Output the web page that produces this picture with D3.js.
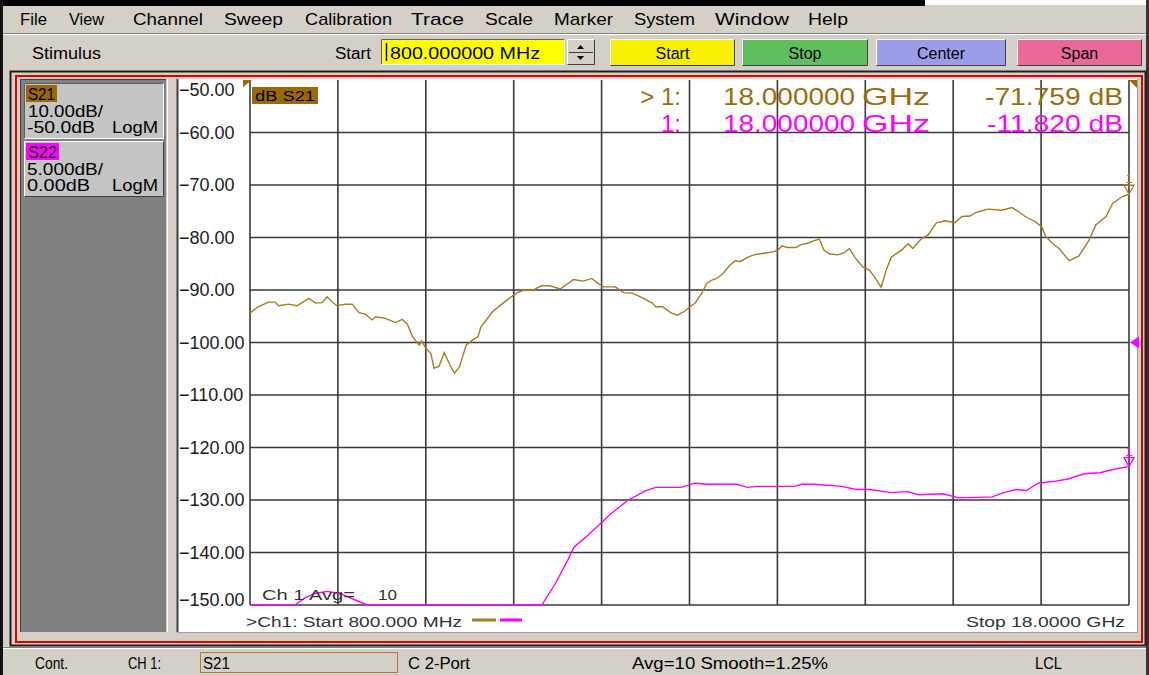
<!DOCTYPE html>
<html><head><meta charset="utf-8">
<script src="https://cdn.jsdelivr.net/npm/d3@7"></script>
<style>
body{margin:0;background:#d4d0c8;overflow:hidden}
svg{display:block}
text{font-family:"Liberation Sans",Arial,sans-serif}
</style>
</head><body>
<svg id="c" width="1149" height="675"></svg>
<script>
// ---------------- DATA ----------------
const freqS21 = [0.80,0.96,1.16,1.29,1.36,1.55,1.72,1.95,2.08,2.21,
  2.31,2.40,2.50,2.67,2.80,2.93,3.06,3.19,3.26,3.45,
  3.65,3.78,3.88,3.98,4.11,4.16,4.24,4.34,4.40,4.50,
  4.60,4.70,4.80,4.90,5.03,5.16,5.26,5.32,5.55,5.75,
  6.01,6.14,6.34,6.50,6.67,6.87,7.13,7.32,7.49,7.59,
  7.72,7.95,8.11,8.28,8.44,8.67,8.74,8.87,9.03,9.16,
  9.30,9.41,9.51,9.64,9.74,9.84,9.93,10.03,10.20,10.30,
  10.39,10.53,10.66,10.79,10.92,11.05,11.13,11.21,11.31,11.48,
  11.57,11.71,11.84,11.94,12.03,12.13,12.30,12.43,12.53,12.63,
  12.79,12.92,13.02,13.15,13.25,13.35,13.55,13.68,13.77,13.94,
  14.07,14.23,14.40,14.59,14.73,14.89,14.99,15.12,15.25,15.51,
  15.71,15.84,15.97,16.17,16.30,16.37,16.50,16.63,16.83,17.02,
  17.22,17.35,17.55,17.68,17.87,18.00];
const s21dB = [-94.4,-93.2,-92.3,-92.3,-93.0,-92.7,-93.0,-91.6,-92.5,-92.4,
  -91.3,-92.2,-93.0,-92.7,-92.7,-94.3,-94.6,-95.7,-95.1,-95.4,
  -96.2,-95.6,-96.5,-98.9,-100.5,-99.7,-101.1,-102.1,-104.9,-104.5,
  -101.9,-104.0,-105.9,-104.6,-100.5,-99.5,-98.9,-97.0,-94.1,-92.5,
  -90.6,-90.1,-90.0,-89.2,-89.2,-89.8,-88.0,-88.3,-87.8,-88.6,
  -89.4,-89.4,-90.5,-90.6,-91.3,-92.5,-93.2,-93.2,-94.3,-94.8,
  -94.1,-93.2,-92.5,-90.6,-88.7,-88.1,-87.8,-87.1,-85.2,-84.4,
  -84.6,-83.8,-83.3,-83.1,-82.9,-82.7,-82.4,-81.6,-81.9,-81.9,
  -81.4,-81.1,-80.6,-80.3,-82.4,-83.1,-83.3,-82.9,-82.1,-83.7,
  -85.6,-86.2,-87.5,-89.5,-86.2,-83.7,-82.4,-81.2,-82.1,-80.2,
  -79.5,-77.2,-76.8,-77.2,-76.0,-75.9,-75.3,-74.9,-74.6,-74.8,
  -74.3,-75.1,-76.0,-77.0,-78.1,-79.8,-81.1,-82.1,-84.4,-83.5,
  -80.5,-77.6,-76.0,-73.5,-72.2,-71.76];
const freqS22 = [0.80,1.68,1.88,2.07,2.31,2.56,2.85,3.09,
  6.51,6.77,7.02,7.14,7.38,7.69,7.84,8.20,8.55,8.74,
  9.23,9.51,9.74,10.33,10.53,10.72,11.45,11.60,11.84,12.38,
  12.66,12.93,13.34,13.66,13.89,14.36,14.67,15.32,15.55,15.79,
  15.99,16.22,16.57,16.81,17.12,17.43,17.77,18.00];
const s22dB = [-25,-25,-24.3,-23.9,-23.7,-23.9,-24.5,-25,
  -25,-23.0,-20.7,-19.5,-18.5,-17.1,-16.4,-15.0,-14.1,-13.8,
  -13.8,-13.4,-13.5,-13.5,-13.8,-13.7,-13.7,-13.5,-13.5,-13.7,
  -14.0,-14.0,-14.3,-14.2,-14.5,-14.4,-14.8,-14.7,-14.3,-14.0,
  -14.1,-13.4,-13.2,-13.0,-12.5,-12.4,-12.0,-11.82];
const yTicks = [-50,-60,-70,-80,-90,-100,-110,-120,-130,-140,-150];
const freqStart = 0.8, freqStop = 18.0, xDivisions = 10;
const s21Scale = {ref:-50, perDiv:10};   // reference at top
const s22Scale = {ref:0, perDiv:5};      // reference at centre
const menuItems = ["File","View","Channel","Sweep","Calibration","Trace","Scale","Marker","System","Window","Help"];
const buttons = ["Start","Stop","Center","Span"];
const markerFreqText = "18.000000";
const markerS21 = "-71.759 dB", markerS22 = "-11.820 dB";
const statusItems = ["Cont.","CH 1:","S21","C  2-Port","Avg=10 Smooth=1.25%","LCL"];

// ---------------- LAYOUT ----------------
const svg = d3.select("#c");
function txt(g, x, y, s, o = {}) {
  const t = g.append("text").attr("x", x).attr("y", y).text(s)
    .attr("font-size", o.size || 15).attr("fill", o.fill || "#000");
  if (o.anchor) t.attr("text-anchor", o.anchor);
  if (o.len) t.attr("textLength", o.len).attr("lengthAdjust", "spacingAndGlyphs");
  if (o.weight) t.attr("font-weight", o.weight);
  return t;
}
function bevel(g, x, y, w, h, fill, sunken) {
  g.append("rect").attr("x", x).attr("y", y).attr("width", w).attr("height", h).attr("fill", fill);
  const lt = sunken ? "#606060" : "#ffffff", dk = sunken ? "#ffffff" : "#404040";
  g.append("path").attr("d", `M${x+0.5},${y+h-0.5} V${y+0.5} H${x+w-0.5}`).attr("stroke", lt).attr("fill", "none");
  g.append("path").attr("d", `M${x+0.5},${y+h-0.5} H${x+w-0.5} V${y+0.5}`).attr("stroke", dk).attr("fill", "none");
}

// window background
svg.append("rect").attr("width", 1149).attr("height", 675).attr("fill", "#d4d0c8");
svg.append("rect").attr("x", 0).attr("y", 0).attr("width", 925).attr("height", 6).attr("fill", "#000");
svg.append("rect").attr("x", 925).attr("y", 0).attr("width", 224).attr("height", 5).attr("fill", "#fff");
svg.append("rect").attr("x", 0).attr("y", 0).attr("width", 3).attr("height", 675).attr("fill", "#111");
svg.append("rect").attr("x", 1146).attr("y", 0).attr("width", 3).attr("height", 675).attr("fill", "#333");

// menu bar
const menuX = [20,69,133,224,305,411,485,554,634,715,808];
const menuW = [27,35,70,59,87,53,48,59,61,74,40];
const menu = svg.append("g");
menuItems.forEach((m, i) => txt(menu, menuX[i], 25, m, {size: 17, len: menuW[i]}));
svg.append("line").attr("x1", 3).attr("x2", 1146).attr("y1", 33.5).attr("y2", 33.5).attr("stroke", "#808080");
svg.append("line").attr("x1", 3).attr("x2", 1146).attr("y1", 34.5).attr("y2", 34.5).attr("stroke", "#fff");

// toolbar
const tb = svg.append("g");
txt(tb, 32, 59, "Stimulus", {size: 16, len: 69});
txt(tb, 335, 59, "Start", {size: 16, len: 36});
bevel(tb, 381, 39, 184, 26, "#ffff00", true);
tb.append("line").attr("x1", 386.5).attr("x2", 386.5).attr("y1", 43).attr("y2", 61).attr("stroke", "#0000c0").attr("stroke-width", 1.5);
txt(tb, 390, 59, "800.000000 MHz", {size: 17, len: 150});
bevel(tb, 567, 39, 28, 26, "#d4d0c8", false);
tb.append("line").attr("x1", 569).attr("x2", 593).attr("y1", 52.5).attr("y2", 52.5).attr("stroke", "#404040");
tb.append("path").attr("d", "M577,49 L584,49 L580.5,45 Z").attr("fill", "#000");
tb.append("path").attr("d", "M577,56 L584,56 L580.5,60 Z").attr("fill", "#000");
const btnX = [610,742,876,1017], btnW = [125,126,130,125];
const btnFill = ["#f7f000","#5fbf5f","#9c9ce8","#e8699a"];
buttons.forEach((b, i) => {
  bevel(tb, btnX[i], 39, btnW[i], 27, btnFill[i], false);
  txt(tb, btnX[i] + btnW[i] / 2, 59, b, {size: 16, anchor: "middle"});
});

// main frame
svg.append("rect").attr("x", 10.5).attr("y", 71.5).attr("width", 1135).attr("height", 574)
  .attr("fill", "#d4d0c8").attr("stroke", "#202020").attr("stroke-width", 2);
svg.append("rect").attr("x", 16).attr("y", 76).attr("width", 1126).attr("height", 566)
  .attr("fill", "#d4d0c8").attr("stroke", "#e00000").attr("stroke-width", 2);

// left trace panel
const lp = svg.append("g");
lp.append("rect").attr("x", 20).attr("y", 79).attr("width", 146).attr("height", 553).attr("fill", "#808080");
lp.append("path").attr("d", "M20.5,632 V79.5 H166").attr("stroke", "#404040").attr("fill", "none");
bevel(lp, 24, 83, 140, 56, "#c4c4c4", true);
bevel(lp, 24, 141, 140, 56, "#c4c4c4", false);
lp.append("rect").attr("x", 26).attr("y", 85).attr("width", 31).attr("height", 17).attr("fill", "#9a6a00");
txt(lp, 28, 100, "S21", {size: 16, len: 27});
txt(lp, 28, 117, "10.00dB/", {size: 16, len: 75});
txt(lp, 27, 133, "-50.0dB", {size: 16, len: 68});
txt(lp, 158, 133, "LogM", {size: 16, anchor: "end", len: 46});
lp.append("rect").attr("x", 26).attr("y", 143).attr("width", 33).attr("height", 17).attr("fill", "#ff00ff");
txt(lp, 28, 158, "S22", {size: 16, len: 29});
txt(lp, 27, 175, "5.000dB/", {size: 16, len: 76});
txt(lp, 27, 191, "0.00dB", {size: 16, len: 63});
txt(lp, 158, 191, "LogM", {size: 16, anchor: "end", len: 46});

// plot panel
const pp = svg.append("g");
pp.append("rect").attr("x", 166).attr("y", 79).attr("width", 11).attr("height", 553).attr("fill", "#d4d0c8");
pp.append("line").attr("x1", 167.5).attr("x2", 167.5).attr("y1", 79).attr("y2", 632).attr("stroke", "#fff");
pp.append("rect").attr("x", 177).attr("y", 79).attr("width", 960).attr("height", 553).attr("fill", "#fff");
pp.append("line").attr("x1", 177.5).attr("x2", 177.5).attr("y1", 79).attr("y2", 632).attr("stroke", "#404040").attr("stroke-width", 2);
pp.append("line").attr("x1", 177).attr("x2", 1137).attr("y1", 632.5).attr("y2", 632.5).attr("stroke", "#a0a0a0");
pp.append("line").attr("x1", 1137.5).attr("x2", 1137.5).attr("y1", 79).attr("y2", 633).attr("stroke", "#a0a0a0");

// scales
const x = d3.scaleLinear().domain([freqStart, freqStop]).range([250, 1129]);
const y21 = d3.scaleLinear().domain([s21Scale.ref - 10 * s21Scale.perDiv, s21Scale.ref]).range([605, 80]);
const y22 = d3.scaleLinear().domain([s22Scale.ref - 5 * s22Scale.perDiv, s22Scale.ref + 5 * s22Scale.perDiv]).range([605, 80]);

// grid
const grid = svg.append("g").attr("stroke", "#3a3a3a").attr("stroke-width", 1.6);
const xGrid = d3.range(xDivisions + 1).map(i => freqStart + i * (freqStop - freqStart) / xDivisions);
grid.selectAll(".vx").data(xGrid).join("line")
  .attr("x1", d => x(d)).attr("x2", d => x(d)).attr("y1", y21(-50)).attr("y2", y21(-150));
grid.selectAll(".hy").data(yTicks.slice(1)).join("line")
  .attr("x1", x(freqStart)).attr("x2", x(freqStop)).attr("y1", d => y21(d)).attr("y2", d => y21(d));

// y labels
const fmt = d3.format(".2f");
svg.append("g").selectAll("text").data(yTicks).join("text")
  .attr("x", 179).attr("y", d => Math.max(90, Math.min(600, y21(d))) + 6)
  .attr("font-size", 18).attr("fill", "#1a1a1a").text(d => fmt(d));

// traces
const line21 = d3.line().x(d => x(d[0])).y(d => y21(d[1]));
const line22 = d3.line().x(d => x(d[0])).y(d => y22(Math.max(-25, d[1])));
svg.append("path").datum(d3.zip(freqS22, s22dB)).attr("d", line22)
  .attr("fill", "none").attr("stroke", "#ff00ff").attr("stroke-width", 1.4);
svg.append("path").datum(d3.zip(freqS21, s21dB)).attr("d", line21)
  .attr("fill", "none").attr("stroke", "#a87b1e").attr("stroke-width", 1.4);

// markers at stop
const mx = x(freqStop);
[[y21(s21dB[s21dB.length - 1]), "#a87b1e"], [y22(s22dB[s22dB.length - 1]), "#ff00ff"]].forEach(([my, c]) => {
  svg.append("path").attr("d", `M${mx-5},${my-9} L${mx+5},${my-9} L${mx},${my} Z`)
    .attr("fill", "none").attr("stroke", c).attr("stroke-width", 1.3);
  txt(svg, mx, my - 11, "1", {size: 13, fill: c, anchor: "middle"});
});

// reference indicators
svg.append("path").attr("d", "M243,87 L252,80 L243,80 Z").attr("fill", "#9a6a00");
svg.append("path").attr("d", `M${x(freqStop)},80 L1137,80 L1137,88 Z`).attr("fill", "#9a6a00");
svg.append("path").attr("d", `M${x(freqStop)+1},${y22(0)} L1139,${y22(0)-6} L1139,${y22(0)+6} Z`).attr("fill", "#ff00ff");

// dB S21 label
svg.append("rect").attr("x", 252).attr("y", 87).attr("width", 66).attr("height", 17).attr("fill", "#9a6a00");
txt(svg, 255, 101, "dB S21", {size: 14, len: 60});

// marker readout
const brown = "#9c6c0c", mag = "#ff00ff";
txt(svg, 681, 105, "> 1:", {size: 24, fill: brown, anchor: "end"});
txt(svg, 723, 105, markerFreqText, {size: 24, fill: brown, len: 132});
txt(svg, 862, 105, "GHz", {size: 24, fill: brown, len: 68});
txt(svg, 1123, 105, markerS21, {size: 24, fill: brown, anchor: "end", len: 138});
txt(svg, 681, 132, "1:", {size: 24, fill: mag, anchor: "end"});
txt(svg, 723, 132, markerFreqText, {size: 24, fill: mag, len: 132});
txt(svg, 862, 132, "GHz", {size: 24, fill: mag, len: 68});
txt(svg, 1123, 132, markerS22, {size: 24, fill: mag, anchor: "end", len: 136});

// bottom annotations
txt(svg, 262, 600, "Ch 1 Avg=", {size: 15, fill: "#333", len: 93});
txt(svg, 378, 600, "10", {size: 15, fill: "#333", len: 19});
txt(svg, 246, 627, ">Ch1: Start  800.000 MHz", {size: 14, fill: "#333", len: 216});
svg.append("line").attr("x1", 472).attr("x2", 496).attr("y1", 620).attr("y2", 620).attr("stroke", "#a87b1e").attr("stroke-width", 3);
svg.append("line").attr("x1", 500).attr("x2", 522).attr("y1", 620).attr("y2", 620).attr("stroke", "#ff00ff").attr("stroke-width", 3);
txt(svg, 966, 627, "Stop  18.0000 GHz", {size: 14, fill: "#333", len: 159});

// status bar
svg.append("line").attr("x1", 3).attr("x2", 1146).attr("y1", 647.5).attr("y2", 647.5).attr("stroke", "#808080");
svg.append("line").attr("x1", 3).attr("x2", 1146).attr("y1", 648.5).attr("y2", 648.5).attr("stroke", "#fff");
const sb = svg.append("g");
svg.append("rect").attr("x", 200.5).attr("y", 652.5).attr("width", 197).attr("height", 20)
  .attr("fill", "none").attr("stroke", "#b08030");
const sbX = [35,128,203,408,632,1035], sbW = [33,33,27,62,196,27];
statusItems.forEach((s, i) => txt(sb, sbX[i], 669, s, {size: 16, len: sbW[i]}));
</script>
</body></html>
